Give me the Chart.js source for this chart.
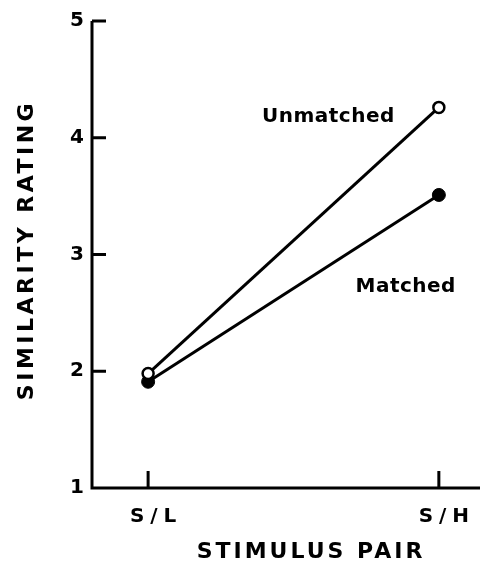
<!DOCTYPE html>
<html>
<head>
<meta charset="utf-8">
<script src="https://cdn.jsdelivr.net/npm/chart.js@4.4.0/dist/chart.umd.min.js"></script>
<style>
  html, body { margin: 0; padding: 0; background: #fff; }
  #wrap { width: 480px; height: 565px; position: relative; }
</style>
</head>
<body>
<div id="wrap"><canvas id="simChart"></canvas></div>
<script>
// categories on the x axis
let pairs = ["S/L", "S/H"];
let pairPos = [0, 1];
// mean similarity ratings
let unmatched = [1.98, 4.26];
let matched = [1.91, 3.51];
// y ticks
let yTicks = [1, 2, 3, 4, 5];

let fontName = "'DejaVu Sans', sans-serif";

// axes, inward ticks, titles and line labels
const paperStyle = {
    id: "paperStyle",
    beforeDraw(chart) {
        // wide spaced lettering for the tick labels
        chart.ctx.letterSpacing = "6px";
    },
    afterDraw(chart) {
        let ctx = chart.ctx;
        let x = chart.scales.x;
        let y = chart.scales.y;
        ctx.save();
        ctx.strokeStyle = "#000";
        ctx.lineWidth = 3;
        ctx.beginPath();
        ctx.moveTo(x.left, y.top);
        ctx.lineTo(x.left, y.bottom);
        ctx.lineTo(chart.width, y.bottom);
        yTicks.forEach(v => {
            if (v == 1) return;
            let py = y.getPixelForValue(v);
            ctx.moveTo(x.left, py);
            ctx.lineTo(x.left + 14, py);
        });
        pairPos.forEach(v => {
            let px = x.getPixelForValue(v);
            ctx.moveTo(px, y.bottom);
            ctx.lineTo(px, y.bottom - 17);
        });
        ctx.stroke();

        ctx.fillStyle = "#000";
        ctx.textAlign = "center";
        ctx.textBaseline = "middle";

        // line labels
        ctx.letterSpacing = "0.5px";
        ctx.font = "bold 20px " + fontName;
        ctx.fillText("Unmatched", x.getPixelForValue(0.62), y.getPixelForValue(4.18));
        ctx.fillText("Matched", x.getPixelForValue(0.886), y.getPixelForValue(2.72));

        // axis titles
        ctx.font = "bold 22px " + fontName;
        ctx.letterSpacing = "3px";
        ctx.fillText("STIMULUS PAIR", 311, 552);
        ctx.save();
        ctx.letterSpacing = "3.5px";
        ctx.translate(27, 250);
        ctx.rotate(-Math.PI / 2);
        ctx.fillText("SIMILARITY RATING", 0, 0);
        ctx.restore();
        ctx.restore();
    }
};

new Chart("simChart", {
    type: "line",
    data: {
        datasets: [{
            label: "Unmatched",
            data: pairPos.map((p, i) => ({x: p, y: unmatched[i]})),
            borderColor: "#000",
            borderWidth: 3,
            pointRadius: 5.5,
            pointBorderWidth: 2.5,
            pointBackgroundColor: "#fff",
            pointBorderColor: "#000"
        }, {
            label: "Matched",
            data: pairPos.map((p, i) => ({x: p, y: matched[i]})),
            borderColor: "#000",
            borderWidth: 3,
            pointRadius: 6.5,
            pointBorderWidth: 1,
            pointBackgroundColor: "#000",
            pointBorderColor: "#000"
        }]
    },
    options: {
        responsive: true,
        maintainAspectRatio: false,
        animation: false,
        layout: {padding: {top: 21, right: 0, left: 0, bottom: 0}},
        plugins: {legend: {display: false}, tooltip: {enabled: false}},
        scales: {
            x: {
                type: "linear",
                min: -0.193,
                max: 1.114,
                afterBuildTicks: s => { s.ticks = pairPos.map(v => ({value: v})); },
                afterFit: s => { s.height = 77; },
                grid: {display: false, drawTicks: false},
                border: {display: false},
                ticks: {
                    color: "#000",
                    padding: 17,
                    labelOffset: 8,
                    font: {family: fontName, size: 20, weight: "bold"},
                    callback: v => pairs[pairPos.indexOf(v)]
                }
            },
            y: {
                min: 1,
                max: 5,
                afterBuildTicks: s => { s.ticks = yTicks.map(v => ({value: v})); },
                afterFit: s => { s.width = 92; },
                grid: {display: false, drawTicks: false},
                border: {display: false},
                ticks: {
                    color: "#000",
                    padding: 2,
                    font: {family: fontName, size: 20, weight: "bold"}
                }
            }
        }
    },
    plugins: [paperStyle]
});
</script>
</body>
</html>
